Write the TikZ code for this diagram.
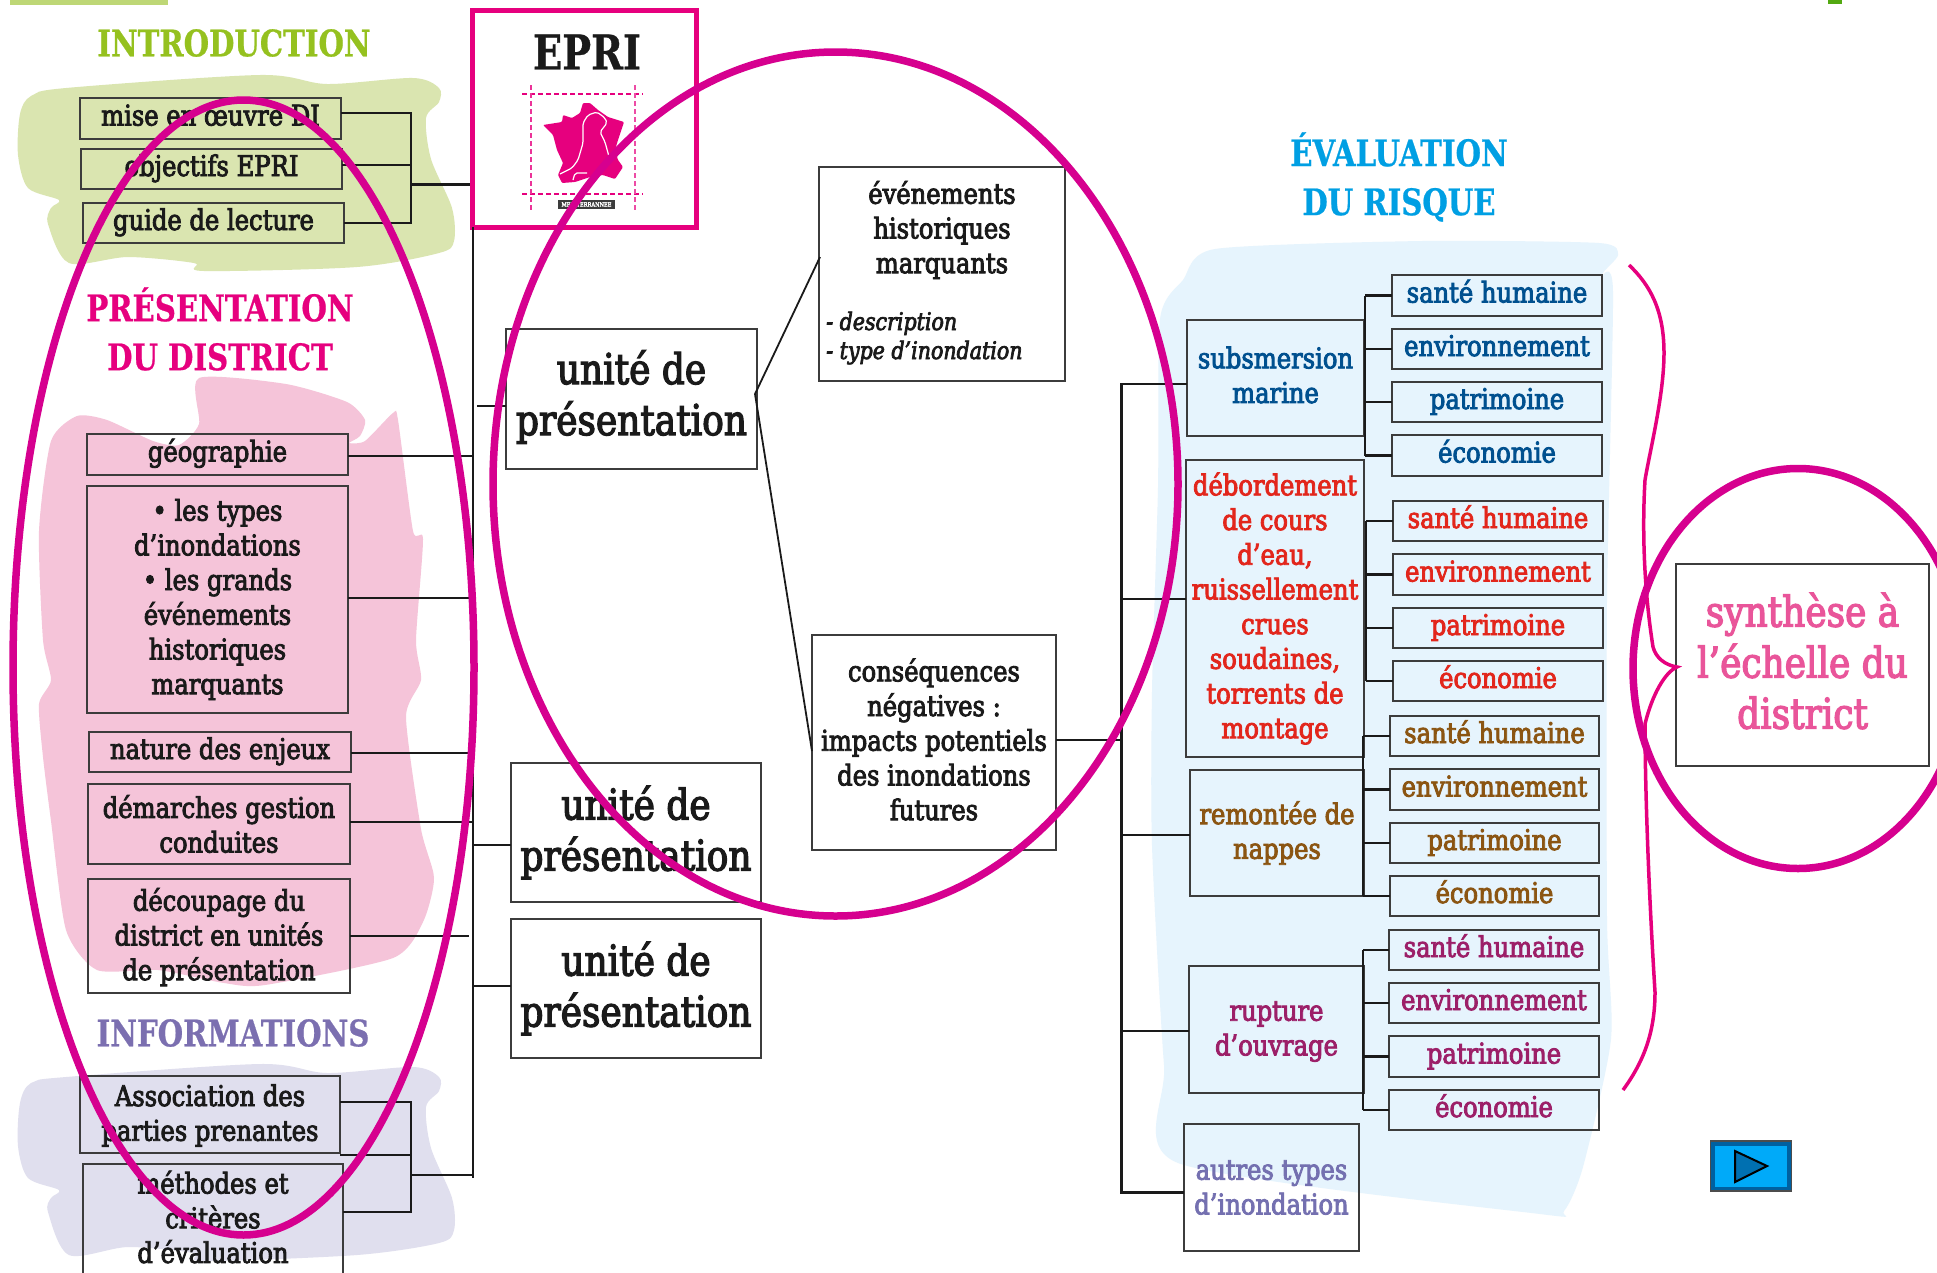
\documentclass[tikz,border=0pt]{standalone}
\usepackage{fontspec}
\setmainfont[FakeStretch=0.85,FakeBold=3]{DejaVu Serif}
\newfontfamily\headf[FakeStretch=0.80,FakeBold=0.6]{DejaVu Serif Bold}
\definecolor{ringc}{HTML}{D6008F}
\definecolor{pinkc}{HTML}{E6007E}
\definecolor{greenh}{HTML}{95C11F}
\definecolor{greenb}{HTML}{DAE5B0}
\definecolor{pinkb}{HTML}{F5C4D9}
\definecolor{lilacb}{HTML}{E0DFEE}
\definecolor{lilach}{HTML}{7B6FB0}
\definecolor{blueb}{HTML}{E6F4FD}
\definecolor{blueh}{HTML}{009FE3}
\definecolor{cblue}{HTML}{00508F}
\definecolor{cred}{HTML}{E2261C}
\definecolor{cbrown}{HTML}{8B5512}
\definecolor{cplum}{HTML}{9C1F68}
\definecolor{cviolet}{HTML}{7470B0}
\definecolor{csynth}{HTML}{E9559A}
\definecolor{ink}{HTML}{1A1A1A}
\tikzset{
  boxn/.style={draw=ink!85,line width=1.3pt,inner sep=0pt,outer sep=0pt,align=center,text=ink,
    font=\fontsize{28.5}{34.7}\selectfont},
  oneline/.style={text height=22pt,text depth=8pt},
  bigt/.style={font=\fontsize{42.3}{51}\selectfont},
  conn/.style={draw=ink,line width=2.2pt},
  thinconn/.style={draw=ink,line width=1.8pt},
  headn/.style={inner sep=0pt,align=center,font=\fontsize{36.5}{49}\headf},
  ring/.style={draw=ringc,line width=7.5pt},
  txtn/.style={inner sep=0pt,align=center,text=ink,font=\fontsize{28.5}{34.7}\selectfont},
  mapdash/.style={line width=1.2pt,dash pattern=on 5pt off 3pt},
}
% box with one line of text: the text sits in the box node
\newcommand{\bx}[7][]{%
  \pgfmathsetmacro\bcx{(#3+#5)/2}\pgfmathsetmacro\bcy{(#4+#6)/2}%
  \node[boxn,oneline,#1,minimum width={(#5-#3)*1pt},minimum height={(#6-#4)*1pt}] (#2) at (\bcx,\bcy) {#7};}
% box with several lines: a text node, dy off the centre of the box
\newcommand{\bxl}[8][]{%
  \pgfmathsetmacro\bcx{(#3+#5)/2}\pgfmathsetmacro\bcy{(#4+#6)/2}\pgfmathsetmacro\bty{\bcy+#7}%
  \node[boxn,minimum width={(#5-#3)*1pt},minimum height={(#6-#4)*1pt}] (#2) at (\bcx,\bcy) {};
  \node[txtn,#1] (#2-t) at (\bcx,\bty) {#8};}
\begin{document}
\begin{tikzpicture}[x=1pt,y=-1pt]
\useasboundingbox (0,0) rectangle (1937,1272);
\clip (0,0) rectangle (1937,1272);
\fill[white] (0,0) rectangle (1937,1272);
% top marks
\fill[greenb!60!greenh] (10,0) rectangle (168,5);
\fill[greenh!70!green!80!black] (1828,0) rectangle (1842,4);
% background blobs
\fill[greenb] plot[smooth cycle,tension=0.5] coordinates {(31,96)(66,88)(260,75)(327,84)(413,78)(439,88)(439,102)(426,118)(431,159)(452,208)(454,241)(439,253)(357,267)(204,271)(194,263)(128,257)(69,263)(48,224)(51,208)(59,200)(28,188)(18,155)(20,114)};
\fill[lilacb] plot[smooth cycle,tension=0.5] coordinates {(31,1083)(66,1077)(260,1064)(327,1073)(413,1067)(439,1077)(439,1091)(426,1107)(431,1148)(452,1198)(454,1230)(439,1243)(357,1255)(204,1261)(194,1253)(128,1247)(69,1255)(48,1212)(51,1198)(59,1190)(28,1178)(18,1146)(20,1103)};
\fill[pinkb] plot[smooth cycle,tension=0.4] coordinates {(199,378)(286,384)(347,402)(365,420)(360,436)(349,443)(365,441)(393,413)(398,420)(413,531)(423,539)(416,640)(421,680)(406,717)(421,829)(434,878)(423,922)(393,958)(265,985)(224,983)(158,970)(97,970)(66,930)(51,821)(43,757)(39,704)(51,680)(43,640)(39,531)(51,441)(77,416)(107,420)(153,441)(179,445)(199,424)};
\fill[blueb] plot[smooth cycle,tension=0.4] coordinates {(1215,249)(1422,241)(1599,243)(1618,255)(1602,275)(1613,292)(1607,600)(1607,919)(1611,1039)(1583,1167)(1564,1211)(1540,1214)(1178,1163)(1164,1065)(1152,846)(1152,691)(1158,487)(1160,319)(1183,280)};
% headings
\node[headn,text=greenh] (hintro) at (234,43) {INTRODUCTION};
\node[headn,text=pinkc] (hpres) at (220,329) {PRÉSENTATION\\DU DISTRICT};
\node[headn,text=lilach] (hinfo) at (233,1033) {INFORMATIONS};
\node[headn,text=blueh] (heval) at (1399,177) {ÉVALUATION\\DU RISQUE};
% EPRI box
\node[draw=pinkc,line width=5pt,minimum width=224pt,minimum height=217pt,inner sep=0pt] (epri) at (584,118.5) {};
\node[inner sep=0pt,font=\fontsize{48}{48}\headf,text=ink] (eprit) at (587,52) {EPRI};
\draw[pinkc,mapdash] (522,94) -- (643,94);
\draw[pinkc,mapdash] (522,194) -- (643,194);
\draw[pinkc!80,mapdash] (531,85) -- (531,210);
\draw[pinkc!70,mapdash] (635,85) -- (635,210);
\fill[pinkc,rounded corners=1pt] (543,125)--(562,122)--(563,115)--(572,118)--(580,113)--(583,103)--(590,103)--(598,110)--(608,117)--(624,122)--(618,140)--(615,150)--(618,160)--(623,167)--(615,179)--(603,175)--(590,177)--(575,182)--(562,183)--(558,175)--(563,163)--(557,150)--(553,135)--cycle;
\draw[white,line width=1.2pt,rounded corners=2pt] (560,174)--(572,168)--(578,160)--(583,143)--(583,123)--(588,115)--(597,112)--(605,118)--(607,123)--(600,132)--(605,142)--(608,153)--(610,160);
\draw[white,line width=1.2pt,rounded corners=2pt] (587,173)--(575,173)--(573,180);
\node[fill=ink!85,text=white,inner sep=0pt,minimum width=57pt,minimum height=9pt,font=\fontsize{6}{6}\selectfont] (medit) at (586.5,204.5) {MEDITERRANNEE};
% left column boxes
\bx{mise}{80}{98}{341}{139}{mise en œuvre DI}
\bx{obj}{81}{149}{342}{189}{objectifs EPRI}
\bx{guide}{83}{203}{344}{243}{guide de lecture}
\bx{geo}{87}{434}{348}{475}{géographie}
\bxl{types}{87}{486}{348}{713}{0}{• les types\\d’inondations\\• les grands\\événements\\historiques\\marquants}
\bx{nature}{89}{732}{351}{772}{nature des enjeux}
\bxl{demar}{88}{784}{350}{864}{0}{démarches gestion\\conduites}
\bxl{decoup}{88}{879}{350}{993}{1}{découpage du\\district en unités\\de présentation}
\bxl{assoc}{80}{1076}{340}{1153}{1}{Association des\\parties prenantes}
\bxl{meth}{83}{1164}{343}{1300}{-15}{méthodes et\\critères\\d’évaluation}
% centre boxes
\bxl[bigt]{u1}{506}{329}{757}{469}{-2}{unité de\\présentation}
\bxl[bigt]{u2}{511}{763}{761}{902}{0}{unité de\\présentation}
\bxl[bigt]{u3}{511}{919}{761}{1058}{0}{unité de\\présentation}
\bxl{even}{819}{167}{1065}{381}{-44}{événements\\historiques\\marquants}
\node[txtn,align=left,anchor=west,font=\fontsize{24.2}{29}\selectfont\itshape] (evens) at (826,338) {- description\\- type d’inondation};
\bxl{cons}{812}{635}{1056}{850}{-3}{conséquences\\négatives :\\impacts potentiels\\des inondations\\futures}
% right column
\bxl[text=cblue]{subm}{1187}{320}{1364}{436}{-3}{subsmersion\\marine}
\bxl[text=cred]{debo}{1186}{460}{1364}{757}{0}{débordement\\de cours\\d’eau,\\ruissellement\\crues\\soudaines,\\torrents de\\montage}
\bxl[text=cbrown]{remo}{1190}{770}{1364}{896}{0}{remontée de\\nappes}
\bxl[text=cplum]{rupt}{1189}{966}{1364}{1093}{2}{rupture\\d’ouvrage}
\bxl[text=cviolet]{autr}{1184}{1124}{1359}{1251}{0}{autres types\\d’inondation}
\bx[text=cblue]{a1}{1392}{275}{1602}{316}{santé humaine}
\bx[text=cblue]{a2}{1392}{329}{1602}{369}{environnement}
\bx[text=cblue]{a3}{1392}{382}{1602}{422}{patrimoine}
\bx[text=cblue]{a4}{1392}{435}{1602}{476}{économie}
\bx[text=cred]{b1}{1393}{501}{1603}{541}{santé humaine}
\bx[text=cred]{b2}{1393}{554}{1603}{595}{environnement}
\bx[text=cred]{b3}{1393}{608}{1603}{648}{patrimoine}
\bx[text=cred]{b4}{1393}{661}{1603}{701}{économie}
\bx[text=cbrown]{c1}{1390}{716}{1599}{756}{santé humaine}
\bx[text=cbrown]{c2}{1390}{769}{1599}{810}{environnement}
\bx[text=cbrown]{c3}{1390}{823}{1599}{863}{patrimoine}
\bx[text=cbrown]{c4}{1390}{876}{1599}{916}{économie}
\bx[text=cplum]{d1}{1389}{930}{1599}{970}{santé humaine}
\bx[text=cplum]{d2}{1389}{983}{1599}{1023}{environnement}
\bx[text=cplum]{d3}{1389}{1036}{1599}{1077}{patrimoine}
\bx[text=cplum]{d4}{1389}{1090}{1599}{1130}{économie}
\bxl[bigt,text=csynth]{syn}{1676}{564}{1929}{766}{-4}{synthèse à\\l’échelle du\\district}
% connectors : left column
\coordinate (jm) at (411,113); \coordinate (jo) at (411,165); \coordinate (jg) at (411,223);
\coordinate (jt) at (411,184.5); \coordinate (tt) at (473,227); \coordinate (tb) at (473,1178);
\draw[conn] (mise.east |- jm) -- (jm) -- (jg) -- (guide.east |- jg);
\draw[conn] (obj.east |- jo) -- (jo);
\draw[conn] (jt) -- (jt -| epri.west);
\draw[conn] (tt) -- (tb);
\coordinate (lg) at (473,456); \coordinate (lt) at (469,598); \coordinate (ln) at (469,753);
\coordinate (ld) at (473,822); \coordinate (lc) at (469,936); \coordinate (lu1) at (477,406);
\draw[thinconn] (geo.east |- lg) -- (lg);
\draw[thinconn] (types.east |- lt) -- (lt);
\draw[thinconn] (nature.east |- ln) -- (ln);
\draw[conn] (demar.east |- ld) -- (ld);
\draw[thinconn] (decoup.east |- lc) -- (lc);
\draw[conn] (lu1) -- (lu1 -| u1.west);
\coordinate (lu2) at (473,845); \coordinate (lu3) at (473,986);
\draw[conn] (lu2) -- (lu2 -| u2.west);
\draw[conn] (lu3) -- (lu3 -| u3.west);
\coordinate (ja) at (411,1102); \coordinate (jb) at (411,1155); \coordinate (jc) at (411,1212); \coordinate (jd) at (411,1175);
\draw[conn] (assoc.east |- ja) -- (ja) -- (jc) -- (meth.east |- jc);
\draw[thinconn] (assoc.east |- jb) -- (jb);
\draw[conn] (jd) -- (jd -| tb);
% fork
\coordinate (fk) at (755,394); \coordinate (fa) at (820,257); \coordinate (fb) at (812,751);
\draw[thinconn] (fa) -- (fk) -- (fb);
% right trunk
\coordinate (rt) at (1121.5,384); \coordinate (rb) at (1121.5,1192.5);
\coordinate (r2) at (1121.5,599); \coordinate (r3) at (1121.5,835); \coordinate (r4) at (1121.5,1031); \coordinate (rc) at (1121.5,740);
\draw[conn] (subm.west |- rt) -- (rt) -- (rb) -- (autr.west |- rb);
\draw[thinconn] (r2) -- (r2 -| debo.west);
\draw[conn] (r3) -- (r3 -| remo.west);
\draw[conn] (r4) -- (r4 -| rupt.west);
\draw[conn] (cons.east |- rc) -- (rc);
% right sub-trunks
\newcommand{\fan}[3]{%
  \coordinate (#1t) at (#2,0);
  \draw[conn] (#1t |- #31.west) -- (#1t |- #34.west);
  \draw[conn] (#1t |- #31.west) -- (#31.west);
  \draw[conn] (#1t |- #32.west) -- (#32.west);
  \draw[conn] (#1t |- #33.west) -- (#33.west);
  \draw[conn] (#1t |- #34.west) -- (#34.west);}
\fan{fa}{1365}{a}
\fan{fb}{1366}{b}
\fan{fc}{1363}{c}
\fan{fd}{1363}{d}
% brace
\draw[draw=pinkc,line width=3.5pt] (1629,265) .. controls (1650,285) and (1664,310) .. (1664,353) .. controls (1664,395) and (1650,450) .. (1645,480) .. controls (1642,530) and (1644,590) .. (1653,647) .. controls (1656,658) and (1665,665) .. (1677,667) .. controls (1665,672) and (1652,695) .. (1645,724) .. controls (1645,780) and (1648,880) .. (1655,992) .. controls (1655,1030) and (1645,1060) .. (1623,1090);
% rings
\draw[ring] (243.5,667.5) ellipse [x radius=230.5,y radius=567.5];
\draw[ring] (835.5,484) ellipse [x radius=342.5,y radius=432];
\draw[ring] (1798,668.5) ellipse [x radius=165,y radius=200];
% button
\node[draw=black!70,line width=1.5pt,fill=cblue!80!blueh,minimum width=81pt,minimum height=50pt,inner sep=0pt] (btn) at (1751,1166) {};
\node[fill=blueh!30!cyan!75!blue,minimum width=72pt,minimum height=41pt,inner sep=0pt] (btni) at (btn.center) {};
\fill[draw=black,line width=2pt,fill=cblue!60!blueh] (1735,1151) -- (1735,1182) -- (1767,1166) -- cycle;
\end{tikzpicture}
\end{document}
